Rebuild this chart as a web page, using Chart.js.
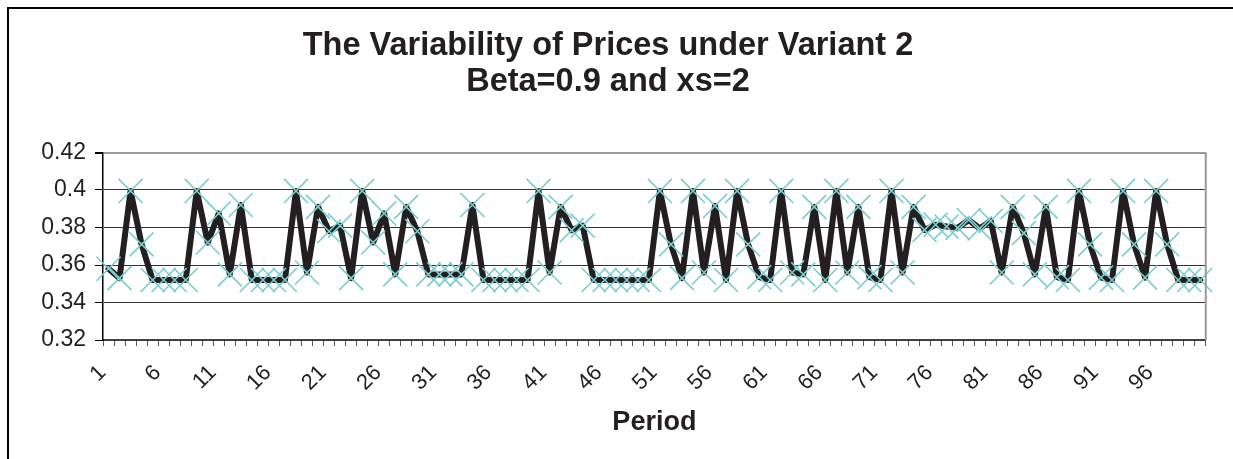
<!DOCTYPE html>
<html>
<head>
<meta charset="utf-8">
<script src="https://cdn.jsdelivr.net/npm/chart.js@4.4.0/dist/chart.umd.min.js"></script>
<style>
  html, body { margin: 0; padding: 0; background: #fff; }
  #wrap { width: 1233px; height: 459px; }
</style>
</head>
<body>
<div id="wrap"><canvas id="PriceChart"></canvas></div>
<script>
// periods 1..100
var periods = [];
for (var p = 1; p <= 100; p++) periods.push(String(p));

// price, one value per period
var prices = [
  0.358, 0.353, 0.3995, 0.371, 0.352, 0.352, 0.352, 0.352, 0.3995, 0.372,
  0.3875, 0.355, 0.392, 0.352, 0.352, 0.352, 0.352, 0.3995, 0.356, 0.391,
  0.378, 0.381, 0.353, 0.3995, 0.372, 0.3875, 0.355, 0.391, 0.378, 0.355,
  0.355, 0.355, 0.355, 0.392, 0.352, 0.352, 0.352, 0.352, 0.352, 0.3995,
  0.356, 0.391, 0.3785, 0.381, 0.352, 0.352, 0.352, 0.352, 0.352, 0.352,
  0.3995, 0.371, 0.353, 0.3995, 0.356, 0.3915, 0.352, 0.3995, 0.371, 0.3535,
  0.352, 0.3995, 0.356, 0.355, 0.391, 0.352, 0.3995, 0.356, 0.391, 0.3535,
  0.352, 0.3995, 0.356, 0.391, 0.3787, 0.3815, 0.3805, 0.3798, 0.384, 0.3795,
  0.3835, 0.356, 0.391, 0.377, 0.355, 0.391, 0.3535, 0.352, 0.3995, 0.371,
  0.3533, 0.352, 0.3995, 0.371, 0.3533, 0.3995, 0.371, 0.352, 0.352, 0.352
];

var yTicks = [0.32, 0.34, 0.36, 0.38, 0.4, 0.42];
var titleLines = ['The Variability of Prices under Variant 2', 'Beta=0.9 and xs=2'];

// outer frame + grey plot border
var framePlugin = {
  id: 'frame',
  afterDraw: function (chart) {
    var c = chart.ctx, a = chart.chartArea;
    c.save();
    c.strokeStyle = '#000';
    c.lineWidth = 2;
    c.beginPath();
    c.moveTo(8, 459);
    c.lineTo(8, 8);
    c.lineTo(1233, 8);
    c.stroke();
    c.strokeStyle = '#999';
    c.lineWidth = 2;
    c.beginPath();
    c.moveTo(a.right, a.top);
    c.lineTo(a.right, a.bottom);
    c.stroke();
    c.restore();
  }
};

var ctx = document.getElementById('PriceChart').getContext('2d');
var priceChart = new Chart(ctx, {
  type: 'line',
  data: {
    labels: periods,
    datasets: [{
      label: 'Price',
      data: prices,
      borderColor: '#231F20',
      borderWidth: 6,
      borderJoinStyle: 'round',
      borderCapStyle: 'round',
      tension: 0,
      pointStyle: 'crossRot',
      pointRadius: 17,
      pointHoverRadius: 17,
      pointBorderWidth: 1.6,
      pointBorderColor: '#7CCDCD',
      pointBackgroundColor: '#7CCDCD',
      clip: false
    }]
  },
  options: {
    responsive: true,
    maintainAspectRatio: false,
    animation: false,
    events: [],
    layout: { padding: { left: 0, right: 17, top: 0, bottom: 0 } },
    plugins: {
      legend: { display: false },
      tooltip: { enabled: false },
      title: {
        display: true,
        text: titleLines,
        color: '#231F20',
        font: { family: 'Liberation Sans, Arial, sans-serif', size: 32.5, weight: 'bold', lineHeight: 1.1 },
        padding: { top: 28, bottom: 53 }
      }
    },
    scales: {
      x: {
        type: 'category',
        offset: true,
        grid: { display: true, drawOnChartArea: false, offset: true, tickLength: 6, tickColor: '#555', lineWidth: 1 },
        border: { display: true, color: '#444', width: 1.5 },
        ticks: {
          autoSkip: false,
          minRotation: 45,
          maxRotation: 45,
          padding: 14,
          labelOffset: -6,
          color: '#231F20',
          font: { family: 'Liberation Sans, Arial, sans-serif', size: 22 },
          callback: function (v, i) { return i % 5 === 0 ? periods[i] : ''; }
        },
        title: {
          display: true,
          text: 'Period',
          color: '#231F20',
          font: { family: 'Liberation Sans, Arial, sans-serif', size: 27, weight: 'bold', lineHeight: 1.2 },
          padding: { top: 0, bottom: 20 }
        },
        afterFit: function (s) { s.height = 119; }
      },
      y: {
        min: 0.32,
        max: 0.42,
        afterBuildTicks: function (s) { s.ticks = yTicks.map(function (v) { return { value: v }; }); },
        grid: {
          color: function (c) { return c.tick && c.tick.value === 0.42 ? '#999' : '#333'; },
          lineWidth: function (c) { return c.tick && c.tick.value === 0.42 ? 2 : 1; },
          tickColor: '#000',
          tickLength: 8
        },
        border: { display: true, color: '#000', width: 1.5 },
        ticks: {
          padding: 9,
          color: '#231F20',
          font: { family: 'Liberation Sans, Arial, sans-serif', size: 23 },
          callback: function (v) { return String(v); }
        },
        afterFit: function (s) { s.width = 103; }
      }
    }
  },
  plugins: [framePlugin]
});
</script>
</body>
</html>
